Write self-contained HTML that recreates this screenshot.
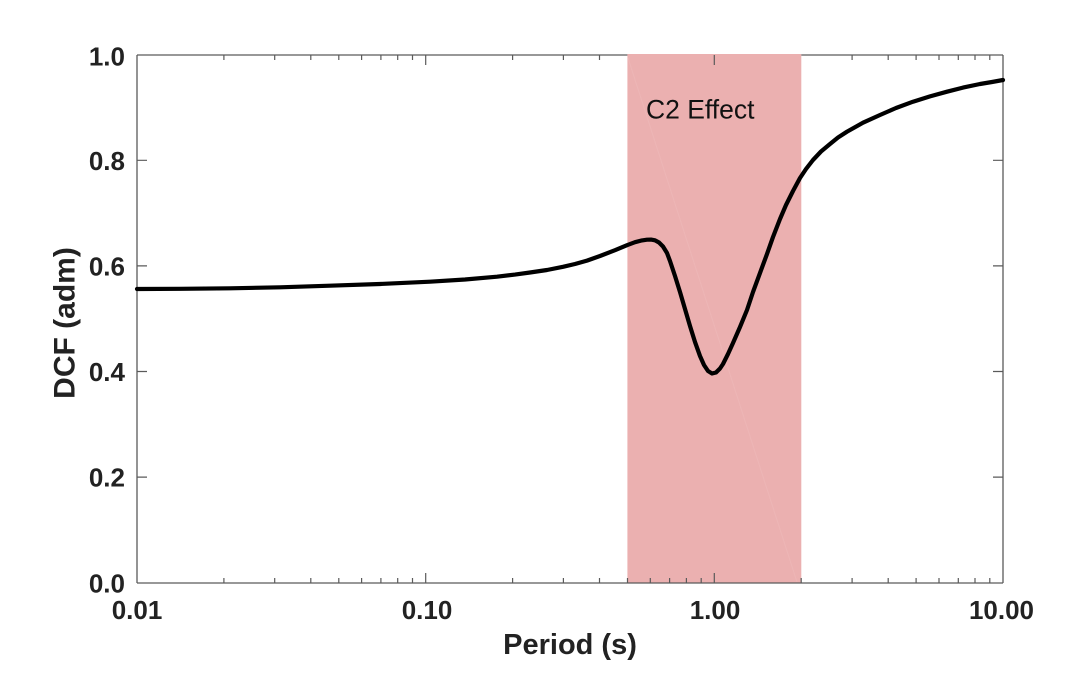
<!DOCTYPE html>
<html>
<head>
<meta charset="utf-8">
<style>
  html, body { margin: 0; padding: 0; background: #ffffff; }
  svg { display: block; }
  text { font-family: "Liberation Sans", Arial, Helvetica, sans-serif; }
</style>
</head>
<body>
<svg width="1077" height="694" viewBox="0 0 1077 694" xmlns="http://www.w3.org/2000/svg">
  <rect x="0" y="0" width="1077" height="694" fill="#ffffff"/>

  <!-- shaded region 0.5 to 2.0 s -->
  <rect x="627.4" y="54" width="173.9" height="529.5" fill="#ebb0b0"/>
  <line x1="628" y1="58" x2="797" y2="582" stroke="#edb6b6" stroke-width="1"/>

  <!-- axes box -->
  <g stroke="#5a5a5a" stroke-width="1.3" fill="none">
    <line x1="137" y1="583" x2="1003" y2="583"/>
    <line x1="137" y1="55" x2="137" y2="583"/>
    <line x1="1003" y1="55" x2="1003" y2="583"/>
    <line x1="137" y1="55" x2="627.4" y2="55"/>
    <line x1="801.3" y1="55" x2="1003" y2="55"/>
  </g>

  <!-- ticks -->
  <g stroke="#5a5a5a" stroke-width="1.2" fill="none">
    <path d="M425.7 583v-10 M714.3 583v-10"/>
    <path d="M223.9 583v-5 M274.7 583v-5 M310.8 583v-5 M338.8 583v-5 M361.6 583v-5 M380.9 583v-5 M397.7 583v-5 M412.5 583v-5"/>
    <path d="M512.6 583v-5 M563.4 583v-5 M599.5 583v-5 M627.5 583v-5 M650.3 583v-5 M669.6 583v-5 M686.4 583v-5 M701.2 583v-5"/>
    <path d="M801.2 583v-5 M852.1 583v-5 M888.2 583v-5 M916.1 583v-5 M939.0 583v-5 M958.3 583v-5 M975.0 583v-5 M989.8 583v-5"/>
    <path d="M425.7 55v10 M714.3 55v10"/>
    <path d="M223.9 55v5 M274.7 55v5 M310.8 55v5 M338.8 55v5 M361.6 55v5 M380.9 55v5 M397.7 55v5 M412.5 55v5"/>
    <path d="M512.6 55v5 M563.4 55v5 M599.5 55v5"/>
    <path d="M852.1 55v5 M888.2 55v5 M916.1 55v5 M939.0 55v5 M958.3 55v5 M975.0 55v5 M989.8 55v5"/>
    <path d="M137 477.1h10 M137 371.5h10 M137 265.9h10 M137 160.3h10"/>
    <path d="M1003 477.1h-10 M1003 371.5h-10 M1003 265.9h-10 M1003 160.3h-10"/>
  </g>

  <!-- data curve -->
  <polyline fill="none" stroke="#000000" stroke-width="4.2" stroke-linejoin="round" stroke-linecap="round"
    points="137,289 180,288.8 230,288.3 280,287.3 330,285.7 380,284 430,281.7 465,279.5 497,276.7 515,274.6 530,272.5 547,270 563,266.8 575,264 587,260.6 600,256 615,250.2 627,245.2 635,242.2 642,240.4 647,239.7 651,239.6 655,240.3 659,242.5 663,246.5 667,253 670,261 675,276 680,292 685,309 690,326 695,342 700,356 704,365 708,371 712,373.5 716,372.5 720,368.5 723,364 728,354 733,343 740,327 747,310 753,292 760,273 767,254 773,237 780,219 786,205 793,191 800,178 806,169 813,160 821,151.5 830,144 838,137.5 847,131.7 863,122.7 880,115 896,108 913,101.7 930,96.4 947,91.7 963,87.6 980,84 992,82 1003,80"/>

  <!-- annotation -->
  <text x="646" y="118.3" font-size="26.5" fill="#111111">C2 Effect</text>

  <!-- y tick labels -->
  <g font-size="26" font-weight="bold" fill="#222222" text-anchor="end">
    <text x="125" y="592.3">0.0</text>
    <text x="125" y="486.7">0.2</text>
    <text x="125" y="381.1">0.4</text>
    <text x="125" y="275.5">0.6</text>
    <text x="125" y="169.9">0.8</text>
    <text x="125" y="65.5">1.0</text>
  </g>

  <!-- x tick labels -->
  <g font-size="26" font-weight="bold" fill="#222222" text-anchor="middle">
    <text x="137" y="619">0.01</text>
    <text x="427" y="619">0.10</text>
    <text x="715" y="619">1.00</text>
    <text x="1001.5" y="619">10.00</text>
  </g>

  <!-- axis labels -->
  <text x="570" y="654" font-size="29" font-weight="bold" fill="#222222" text-anchor="middle">Period (s)</text>
  <text transform="translate(74.5,323) rotate(-90)" x="0" y="0" font-size="30" font-weight="bold" fill="#222222" text-anchor="middle">DCF (adm)</text>
</svg>
</body>
</html>
